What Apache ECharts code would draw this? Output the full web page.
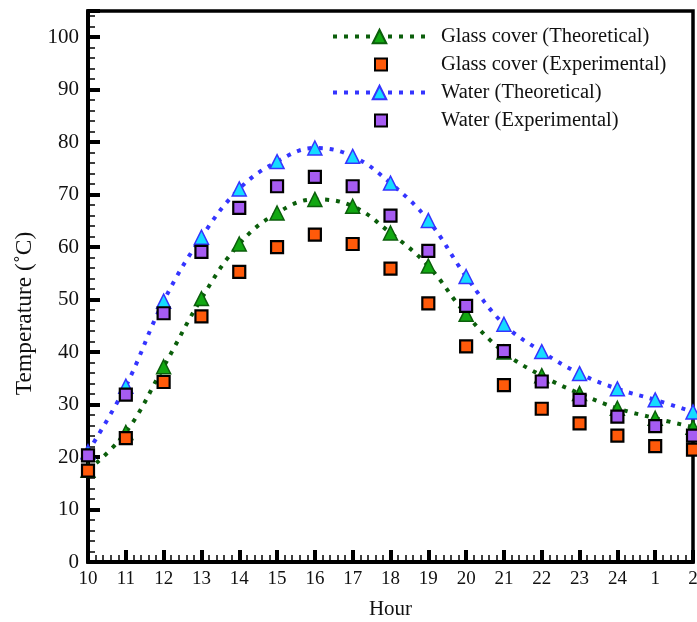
<!DOCTYPE html>
<html><head><meta charset="utf-8">
<script src="https://cdn.jsdelivr.net/npm/echarts@6/dist/echarts.min.js"></script>
<style>html,body{margin:0;padding:0;background:#fff}#c{width:697px;height:622px}</style>
</head><body><div id="c"></div>
<script>
var hours = ['10','11','12','13','14','15','16','17','18','19','20','21','22','23','24','1','2'];
var glassTheo = [17.5,24.7,37.2,50.2,60.6,66.5,69.1,67.8,62.7,56.4,47.2,40.0,35.5,32.1,29.3,27.4,25.7];
var glassExp  = [17.4,23.6,34.3,46.8,55.3,60.0,62.4,60.6,55.9,49.3,41.1,33.7,29.2,26.4,24.1,22.1,21.4];
var waterTheo = [21.0,33.5,49.7,61.9,71.1,76.3,78.9,77.3,72.2,65.1,54.4,45.3,40.1,35.9,33.0,30.9,28.6];
var waterExp  = [20.3,31.9,47.4,59.1,67.5,71.6,73.4,71.6,66.0,59.3,48.8,40.2,34.4,30.9,27.7,25.9,24.1];
var names = ['Glass cover (Theoretical)','Glass cover (Experimental)','Water (Theoretical)','Water (Experimental)'];

function pts(arr){ return arr.map(function(v,i){ return [i, v]; }); }

var FONT = '"Liberation Serif", "Times New Roman", serif';
var chart = echarts.init(document.getElementById('c'), null, {renderer:'canvas'});
var dotted = [4,7];
var GREEN = '#0b5e0b', BLUE = '#3434ff';
var legText = {fontFamily:FONT,fontSize:20.5,color:'#111'};
chart.setOption({
  animation:false,
  backgroundColor:'#fff',
  grid:{left:88,right:4,top:11,bottom:60,outerBoundsMode:'none',containLabel:false,
    show:true,borderColor:'#000',borderWidth:3.5,backgroundColor:'transparent'},
  legend:[
    {left:326,top:21,itemWidth:93,itemHeight:17,data:[names[0]],
      lineStyle:{color:GREEN,width:4,type:dotted,cap:'butt'},
      textStyle:Object.assign({padding:[0,0,0,10]},legText)},
    {left:369,top:49,itemWidth:12,itemHeight:12,data:[names[1]],
      textStyle:Object.assign({padding:[0,0,0,49]},legText)},
    {left:326,top:77,itemWidth:93,itemHeight:17,data:[names[2]],
      lineStyle:{color:BLUE,width:4,type:dotted,cap:'butt'},
      textStyle:Object.assign({padding:[0,0,0,10]},legText)},
    {left:369,top:105,itemWidth:12,itemHeight:12,data:[names[3]],
      textStyle:Object.assign({padding:[0,0,0,49]},legText)}
  ],
  xAxis:{type:'value',min:0,max:16,interval:1,
    name:'Hour',nameLocation:'middle',nameGap:37,nameTextStyle:{fontFamily:FONT,fontSize:21,color:'#111'},
    axisLine:{show:true,lineStyle:{color:'#000',width:4}},
    axisTick:{show:true,inside:true,length:12,lineStyle:{color:'#000',width:4}},
    minorTick:{show:true,splitNumber:5,length:7,lineStyle:{color:'#000',width:1.5}},
    splitLine:{show:false},
    axisLabel:{margin:8,fontFamily:FONT,fontSize:19,color:'#111',formatter:function(v){return hours[Math.round(v)];}}
  },
  yAxis:{type:'value',min:0,max:105,interval:10,
    name:'Temperature (˚C)',nameLocation:'middle',nameGap:49,
    nameTextStyle:{fontFamily:FONT,fontSize:23.5,color:'#111',padding:[0,54,0,0]},
    axisLine:{show:true,lineStyle:{color:'#000',width:4}},
    axisTick:{show:true,inside:true,length:12,lineStyle:{color:'#000',width:4}},
    minorTick:{show:true,splitNumber:5,length:7,lineStyle:{color:'#000',width:1.5}},
    splitLine:{show:false},
    axisLabel:{margin:9,fontFamily:FONT,fontSize:21,color:'#111',showMaxLabel:false}
  },
  series:[
    {name:names[0],type:'line',data:pts(glassTheo),smooth:0.4,symbol:'triangle',symbolSize:14,
      lineStyle:{color:GREEN,width:4,type:dotted,cap:'butt'},
      itemStyle:{color:'#12a812',borderColor:GREEN,borderWidth:1.5},z:2},
    {name:names[2],type:'line',data:pts(waterTheo),smooth:0.4,symbol:'triangle',symbolSize:14,
      lineStyle:{color:BLUE,width:4,type:dotted,cap:'butt'},
      itemStyle:{color:'#16dcff',borderColor:BLUE,borderWidth:1.5},z:2},
    {name:names[1],type:'scatter',data:pts(glassExp),symbol:'rect',symbolSize:12,
      itemStyle:{color:'#ff5a0a',borderColor:'#000',borderWidth:2.2,opacity:1},z:3},
    {name:names[3],type:'scatter',data:pts(waterExp),symbol:'rect',symbolSize:12,
      itemStyle:{color:'#a65cf2',borderColor:'#000',borderWidth:2.2,opacity:1},z:3}
  ]
});
</script></body></html>
